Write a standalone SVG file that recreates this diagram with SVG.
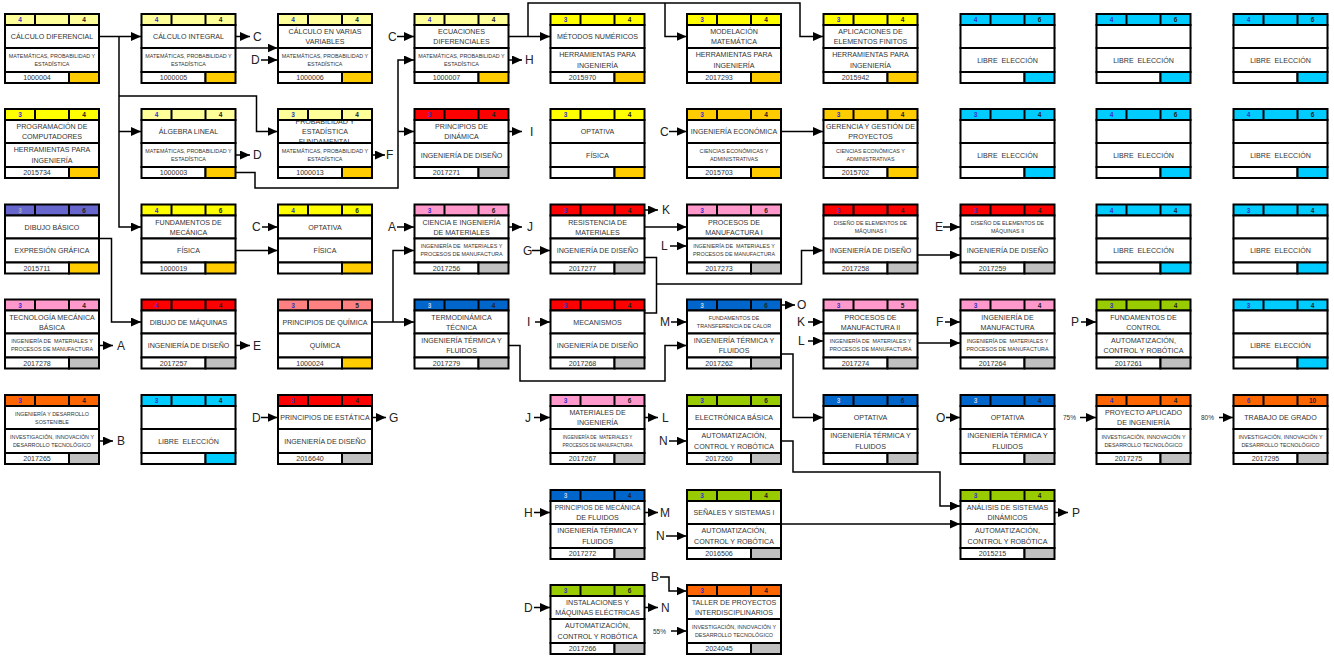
<svg xmlns="http://www.w3.org/2000/svg" width="1334" height="663" viewBox="0 0 1334 663">
<style>
.k{stroke:#000;stroke-width:2}
.w{fill:#fff}.ly{fill:#ffff99}.yy{fill:#ffff00}.go{fill:#ffcc00}.cy{fill:#00ccff}.rd{fill:#ff0000}.pk{fill:#ff99cc}.bl{fill:#0066cc}.sa{fill:#ff8080}.pu{fill:#6666cc}.gr{fill:#99cc00}.or{fill:#ff6600}.gy{fill:#c0c0c0}
.t{font-family:"Liberation Sans",Arial,sans-serif;font-size:7.1px;fill:#333;text-anchor:middle}
.s{font-size:5.4px}.xs{font-size:4.6px}
.h{font-family:"Liberation Sans",Arial,sans-serif;font-size:6.5px;font-weight:bold;fill:#3333cc;text-anchor:middle}
.r{fill:#222}
.lb{font-family:"Liberation Sans",Arial,sans-serif;font-size:12px;fill:#222}
.pc{font-family:"Liberation Sans",Arial,sans-serif;font-size:6.5px;fill:#333}
.c{fill:none;stroke:#000;stroke-width:1.5}
.a{marker-end:url(#ah)}
</style>
<defs>
<marker id="ah" markerUnits="userSpaceOnUse" markerWidth="10" markerHeight="9" refX="10" refY="4.5" orient="auto"><path d="M0,0 L10,4.5 L0,9 z" fill="#000"/></marker>
<g id="fr"><rect class="k w" y="11" width="94" height="23"/><rect class="k w" y="34" width="94" height="24"/><rect class="k w" y="58" width="64" height="11"/><path class="k" d="M30 0V11M64 0V11"/></g>
<clipPath id="ct"><rect x="1" y="12" width="92" height="21"/></clipPath>
</defs>
<rect width="1334" height="663" fill="#fff"/>
<g id="nodes">
<!-- Row 0 -->
<g id="calculo-diferencial" transform="translate(5,14)"><rect class="k ly" width="94" height="11"/><use href="#fr"/><rect class="k go" x="64" y="58" width="30" height="11"/><text class="h" x="15" y="8">4</text><text class="h r" x="79" y="8">4</text><text class="t" x="47" y="25">CÁLCULO DIFERENCIAL</text><text class="t s" x="47" y="43.8">MATEMÁTICAS, PROBABILIDAD Y</text><text class="t s" x="47" y="51.8">ESTADÍSTICA</text><text class="t" x="32" y="66">1000004</text></g>
<g id="calculo-integral" transform="translate(141.5,14)"><rect class="k ly" width="94" height="11"/><use href="#fr"/><rect class="k go" x="64" y="58" width="30" height="11"/><text class="h" x="15" y="8">4</text><text class="h r" x="79" y="8">4</text><text class="t" x="47" y="25">CÁLCULO INTEGRAL</text><text class="t s" x="47" y="43.8">MATEMÁTICAS, PROBABILIDAD Y</text><text class="t s" x="47" y="51.8">ESTADÍSTICA</text><text class="t" x="32" y="66">1000005</text></g>
<g id="calculo-varias-variables" transform="translate(278,14)"><rect class="k ly" width="94" height="11"/><use href="#fr"/><rect class="k go" x="64" y="58" width="30" height="11"/><text class="h" x="15" y="8">4</text><text class="h r" x="79" y="8">4</text><text class="t" x="47" y="20">CÁLCULO EN VARIAS</text><text class="t" x="47" y="30">VARIABLES</text><text class="t s" x="47" y="43.8">MATEMÁTICAS, PROBABILIDAD Y</text><text class="t s" x="47" y="51.8">ESTADÍSTICA</text><text class="t" x="32" y="66">1000006</text></g>
<g id="ecuaciones-diferenciales" transform="translate(414.5,14)"><rect class="k ly" width="94" height="11"/><use href="#fr"/><rect class="k go" x="64" y="58" width="30" height="11"/><text class="h" x="15" y="8">4</text><text class="h r" x="79" y="8">4</text><text class="t" x="47" y="20">ECUACIONES</text><text class="t" x="47" y="30">DIFERENCIALES</text><text class="t s" x="47" y="43.8">MATEMÁTICAS, PROBABILIDAD Y</text><text class="t s" x="47" y="51.8">ESTADÍSTICA</text><text class="t" x="32" y="66">1000007</text></g>
<g id="metodos-numericos" transform="translate(550.5,14)"><rect class="k yy" width="94" height="11"/><use href="#fr"/><rect class="k go" x="64" y="58" width="30" height="11"/><text class="h" x="15" y="8">3</text><text class="h r" x="79" y="8">4</text><text class="t" x="47" y="25">MÉTODOS NUMÉRICOS</text><text class="t" x="47" y="43.3">HERRAMIENTAS PARA</text><text class="t" x="47" y="53.8">INGENIERÍA</text><text class="t" x="32" y="66">2015970</text></g>
<g id="modelacion-matematica" transform="translate(687,14)"><rect class="k yy" width="94" height="11"/><use href="#fr"/><rect class="k go" x="64" y="58" width="30" height="11"/><text class="h" x="15" y="8">3</text><text class="h r" x="79" y="8">4</text><text class="t" x="47" y="20">MODELACIÓN</text><text class="t" x="47" y="30">MATEMÁTICA</text><text class="t" x="47" y="43.3">HERRAMIENTAS PARA</text><text class="t" x="47" y="53.8">INGENIERÍA</text><text class="t" x="32" y="66">2017293</text></g>
<g id="elementos-finitos" transform="translate(823.5,14)"><rect class="k yy" width="94" height="11"/><use href="#fr"/><rect class="k go" x="64" y="58" width="30" height="11"/><text class="h" x="15" y="8">3</text><text class="h r" x="79" y="8">4</text><text class="t" x="47" y="20">APLICACIONES DE</text><text class="t" x="47" y="30">ELEMENTOS FINITOS</text><text class="t" x="47" y="43.3">HERRAMIENTAS PARA</text><text class="t" x="47" y="53.8">INGENIERÍA</text><text class="t" x="32" y="66">2015942</text></g>
<g id="libre-1" transform="translate(960.5,14)"><rect class="k cy" width="94" height="11"/><use href="#fr"/><rect class="k cy" x="64" y="58" width="30" height="11"/><text class="h" x="15" y="8">4</text><text class="h r" x="79" y="8">6</text><text class="t" x="47" y="48.5" xml:space="preserve">LIBRE  ELECCIÓN</text></g>
<g id="libre-2" transform="translate(1096.5,14)"><rect class="k cy" width="94" height="11"/><use href="#fr"/><rect class="k cy" x="64" y="58" width="30" height="11"/><text class="h" x="15" y="8">4</text><text class="h r" x="79" y="8">6</text><text class="t" x="47" y="48.5" xml:space="preserve">LIBRE  ELECCIÓN</text></g>
<g id="libre-3" transform="translate(1233.5,14)"><rect class="k cy" width="94" height="11"/><use href="#fr"/><rect class="k cy" x="64" y="58" width="30" height="11"/><text class="h" x="15" y="8">4</text><text class="h r" x="79" y="8">6</text><text class="t" x="47" y="48.5" xml:space="preserve">LIBRE  ELECCIÓN</text></g>
<!-- Row 1 -->
<g id="programacion" transform="translate(5,109)"><rect class="k yy" width="94" height="11"/><use href="#fr"/><rect class="k go" x="64" y="58" width="30" height="11"/><text class="h" x="15" y="8">3</text><text class="h r" x="79" y="8">4</text><text class="t" x="47" y="20">PROGRAMACIÓN DE</text><text class="t" x="47" y="30">COMPUTADORES</text><text class="t" x="47" y="43.3">HERRAMIENTAS PARA</text><text class="t" x="47" y="53.8">INGENIERÍA</text><text class="t" x="32" y="66">2015734</text></g>
<g id="algebra-lineal" transform="translate(141.5,109)"><rect class="k ly" width="94" height="11"/><use href="#fr"/><rect class="k go" x="64" y="58" width="30" height="11"/><text class="h" x="15" y="8">4</text><text class="h r" x="79" y="8">4</text><text class="t" x="47" y="25">ÁLGEBRA LINEAL</text><text class="t s" x="47" y="43.8">MATEMÁTICAS, PROBABILIDAD Y</text><text class="t s" x="47" y="51.8">ESTADÍSTICA</text><text class="t" x="32" y="66">1000003</text></g>
<g id="probabilidad" transform="translate(278,109)"><rect class="k ly" width="94" height="11"/><use href="#fr"/><rect class="k go" x="64" y="58" width="30" height="11"/><text class="h" x="15" y="8">3</text><text class="h r" x="79" y="8">4</text><g clip-path="url(#ct)"><text class="t" x="47" y="15">PROBABILIDAD Y</text><text class="t" x="47" y="25">ESTADÍSTICA</text><text class="t" x="47" y="35">FUNDAMENTAL</text></g><text class="t s" x="47" y="43.8">MATEMÁTICAS, PROBABILIDAD Y</text><text class="t s" x="47" y="51.8">ESTADÍSTICA</text><text class="t" x="32" y="66">1000013</text></g>
<g id="principios-dinamica" transform="translate(414.5,109)"><rect class="k rd" width="94" height="11"/><use href="#fr"/><rect class="k gy" x="64" y="58" width="30" height="11"/><text class="h" x="15" y="8">3</text><text class="h r" x="79" y="8">4</text><text class="t" x="47" y="20">PRINCIPIOS DE</text><text class="t" x="47" y="30">DINÁMICA</text><text class="t" x="47" y="48.5">INGENIERÍA DE DISEÑO</text><text class="t" x="32" y="66">2017271</text></g>
<g id="optativa-fisica-1" transform="translate(550.5,109)"><rect class="k yy" width="94" height="11"/><use href="#fr"/><rect class="k go" x="64" y="58" width="30" height="11"/><text class="h" x="15" y="8">3</text><text class="h r" x="79" y="8">4</text><text class="t" x="47" y="25">OPTATIVA</text><text class="t" x="47" y="48.5">FÍSICA</text></g>
<g id="ingenieria-economica" transform="translate(687,109)"><rect class="k go" width="94" height="11"/><use href="#fr"/><rect class="k go" x="64" y="58" width="30" height="11"/><text class="h" x="15" y="8">3</text><text class="h r" x="79" y="8">4</text><text class="t" x="47" y="25">INGENIERÍA ECONÓMICA</text><text class="t s" x="47" y="43.8">CIENCIAS ECONÓMICAS Y</text><text class="t s" x="47" y="51.8">ADMINISTRATIVAS</text><text class="t" x="32" y="66">2015703</text></g>
<g id="gerencia-proyectos" transform="translate(823.5,109)"><rect class="k go" width="94" height="11"/><use href="#fr"/><rect class="k go" x="64" y="58" width="30" height="11"/><text class="h" x="15" y="8">3</text><text class="h r" x="79" y="8">4</text><text class="t" x="47" y="20">GERENCIA Y GESTIÓN DE</text><text class="t" x="47" y="30">PROYECTOS</text><text class="t s" x="47" y="43.8">CIENCIAS ECONÓMICAS Y</text><text class="t s" x="47" y="51.8">ADMINISTRATIVAS</text><text class="t" x="32" y="66">2015702</text></g>
<g id="libre-4" transform="translate(960.5,109)"><rect class="k cy" width="94" height="11"/><use href="#fr"/><rect class="k cy" x="64" y="58" width="30" height="11"/><text class="h" x="15" y="8">3</text><text class="h r" x="79" y="8">4</text><text class="t" x="47" y="48.5" xml:space="preserve">LIBRE  ELECCIÓN</text></g>
<g id="libre-5" transform="translate(1096.5,109)"><rect class="k cy" width="94" height="11"/><use href="#fr"/><rect class="k cy" x="64" y="58" width="30" height="11"/><text class="h" x="15" y="8">4</text><text class="h r" x="79" y="8">6</text><text class="t" x="47" y="48.5" xml:space="preserve">LIBRE  ELECCIÓN</text></g>
<g id="libre-6" transform="translate(1233.5,109)"><rect class="k cy" width="94" height="11"/><use href="#fr"/><rect class="k cy" x="64" y="58" width="30" height="11"/><text class="h" x="15" y="8">4</text><text class="h r" x="79" y="8">6</text><text class="t" x="47" y="48.5" xml:space="preserve">LIBRE  ELECCIÓN</text></g>
<!-- Row 2 -->
<g id="dibujo-basico" transform="translate(5,204.5)"><rect class="k pu" width="94" height="11"/><use href="#fr"/><rect class="k go" x="64" y="58" width="30" height="11"/><text class="h" x="15" y="8" style="fill:#aab">3</text><text class="h r" x="79" y="8">6</text><text class="t" x="47" y="25">DIBUJO BÁSICO</text><text class="t" x="47" y="48.5">EXPRESIÓN GRÁFICA</text><text class="t" x="32" y="66">2015711</text></g>
<g id="fundamentos-mecanica" transform="translate(141.5,204.5)"><rect class="k yy" width="94" height="11"/><use href="#fr"/><rect class="k go" x="64" y="58" width="30" height="11"/><text class="h" x="15" y="8">4</text><text class="h r" x="79" y="8">6</text><text class="t" x="47" y="20">FUNDAMENTOS DE</text><text class="t" x="47" y="30">MECÁNICA</text><text class="t" x="47" y="48.5">FÍSICA</text><text class="t" x="32" y="66">1000019</text></g>
<g id="optativa-fisica-2" transform="translate(278,204.5)"><rect class="k yy" width="94" height="11"/><use href="#fr"/><rect class="k go" x="64" y="58" width="30" height="11"/><text class="h" x="15" y="8">4</text><text class="h r" x="79" y="8">6</text><text class="t" x="47" y="25">OPTATIVA</text><text class="t" x="47" y="48.5">FÍSICA</text></g>
<g id="ciencia-materiales" transform="translate(414.5,204.5)"><rect class="k pk" width="94" height="11"/><use href="#fr"/><rect class="k gy" x="64" y="58" width="30" height="11"/><text class="h" x="15" y="8">3</text><text class="h r" x="79" y="8">6</text><text class="t" x="47" y="20">CIENCIA E INGENIERÍA</text><text class="t" x="47" y="30">DE MATERIALES</text><text class="t s" x="47" y="43.8" xml:space="preserve">INGENIERÍA DE  MATERIALES Y</text><text class="t s" x="47" y="51.8">PROCESOS DE MANUFACTURA</text><text class="t" x="32" y="66">2017256</text></g>
<g id="resistencia-materiales" transform="translate(550.5,204.5)"><rect class="k rd" width="94" height="11"/><use href="#fr"/><rect class="k gy" x="64" y="58" width="30" height="11"/><text class="h" x="15" y="8">3</text><text class="h r" x="79" y="8">4</text><text class="t" x="47" y="20">RESISTENCIA DE</text><text class="t" x="47" y="30">MATERIALES</text><text class="t" x="47" y="48.5">INGENIERÍA DE DISEÑO</text><text class="t" x="32" y="66">2017277</text></g>
<g id="procesos-manufactura-1" transform="translate(687,204.5)"><rect class="k pk" width="94" height="11"/><use href="#fr"/><rect class="k gy" x="64" y="58" width="30" height="11"/><text class="h" x="15" y="8">3</text><text class="h r" x="79" y="8">6</text><text class="t" x="47" y="20">PROCESOS DE</text><text class="t" x="47" y="30">MANUFACTURA I</text><text class="t s" x="47" y="43.8" xml:space="preserve">INGENIERÍA DE  MATERIALES Y</text><text class="t s" x="47" y="51.8">PROCESOS DE MANUFACTURA</text><text class="t" x="32" y="66">2017273</text></g>
<g id="diseno-elementos-1" transform="translate(823.5,204.5)"><rect class="k rd" width="94" height="11"/><use href="#fr"/><rect class="k gy" x="64" y="58" width="30" height="11"/><text class="h" x="15" y="8">3</text><text class="h r" x="79" y="8">4</text><text class="t s" x="47" y="20.3">DISEÑO DE ELEMENTOS DE</text><text class="t s" x="47" y="28.5">MÁQUINAS I</text><text class="t" x="47" y="48.5">INGENIERÍA DE DISEÑO</text><text class="t" x="32" y="66">2017258</text></g>
<g id="diseno-elementos-2" transform="translate(960.5,204.5)"><rect class="k rd" width="94" height="11"/><use href="#fr"/><rect class="k gy" x="64" y="58" width="30" height="11"/><text class="h" x="15" y="8">3</text><text class="h r" x="79" y="8">4</text><text class="t s" x="47" y="20.3">DISEÑO DE ELEMENTOS DE</text><text class="t s" x="47" y="28.5">MÁQUINAS II</text><text class="t" x="47" y="48.5">INGENIERÍA DE DISEÑO</text><text class="t" x="32" y="66">2017259</text></g>
<g id="libre-7" transform="translate(1096.5,204.5)"><rect class="k cy" width="94" height="11"/><use href="#fr"/><rect class="k cy" x="64" y="58" width="30" height="11"/><text class="h" x="15" y="8">4</text><text class="h r" x="79" y="8">4</text><text class="t" x="47" y="48.5" xml:space="preserve">LIBRE  ELECCIÓN</text></g>
<g id="libre-8" transform="translate(1233.5,204.5)"><rect class="k cy" width="94" height="11"/><use href="#fr"/><rect class="k cy" x="64" y="58" width="30" height="11"/><text class="h" x="15" y="8">3</text><text class="h r" x="79" y="8">4</text><text class="t" x="47" y="48.5" xml:space="preserve">LIBRE  ELECCIÓN</text></g>
<!-- Row 3 -->
<g id="tecnologia-mecanica" transform="translate(5,299.5)"><rect class="k pk" width="94" height="11"/><use href="#fr"/><rect class="k gy" x="64" y="58" width="30" height="11"/><text class="h" x="15" y="8">3</text><text class="h r" x="79" y="8">4</text><text class="t" x="47" y="20">TECNOLOGÍA MECÁNICA</text><text class="t" x="47" y="30">BÁSICA</text><text class="t s" x="47" y="43.8" xml:space="preserve">INGENIERÍA DE  MATERIALES Y</text><text class="t s" x="47" y="51.8">PROCESOS DE MANUFACTURA</text><text class="t" x="32" y="66">2017278</text></g>
<g id="dibujo-maquinas" transform="translate(141.5,299.5)"><rect class="k rd" width="94" height="11"/><use href="#fr"/><rect class="k gy" x="64" y="58" width="30" height="11"/><text class="h" x="15" y="8">4</text><text class="h r" x="79" y="8">4</text><text class="t" x="47" y="25">DIBUJO DE MÁQUINAS</text><text class="t" x="47" y="48.5">INGENIERÍA DE DISEÑO</text><text class="t" x="32" y="66">2017257</text></g>
<g id="principios-quimica" transform="translate(278,299.5)"><rect class="k sa" width="94" height="11"/><use href="#fr"/><rect class="k go" x="64" y="58" width="30" height="11"/><text class="h" x="15" y="8">3</text><text class="h r" x="79" y="8">5</text><text class="t" x="47" y="25">PRINCIPIOS DE QUÍMICA</text><text class="t" x="47" y="48.5">QUÍMICA</text><text class="t" x="32" y="66">1000024</text></g>
<g id="termodinamica" transform="translate(414.5,299.5)"><rect class="k bl" width="94" height="11"/><use href="#fr"/><rect class="k gy" x="64" y="58" width="30" height="11"/><text class="h" x="15" y="8" style="fill:#ccd">3</text><text class="h r" x="79" y="8">4</text><text class="t" x="47" y="20">TERMODINÁMICA</text><text class="t" x="47" y="30">TÉCNICA</text><text class="t" x="47" y="43.3">INGENIERÍA TÉRMICA Y</text><text class="t" x="47" y="53.8">FLUIDOS</text><text class="t" x="32" y="66">2017279</text></g>
<g id="mecanismos" transform="translate(550.5,299.5)"><rect class="k rd" width="94" height="11"/><use href="#fr"/><rect class="k gy" x="64" y="58" width="30" height="11"/><text class="h" x="15" y="8">3</text><text class="h r" x="79" y="8">4</text><text class="t" x="47" y="25">MECANISMOS</text><text class="t" x="47" y="48.5">INGENIERÍA DE DISEÑO</text><text class="t" x="32" y="66">2017268</text></g>
<g id="transferencia-calor" transform="translate(687,299.5)"><rect class="k bl" width="94" height="11"/><use href="#fr"/><rect class="k gy" x="64" y="58" width="30" height="11"/><text class="h" x="15" y="8" style="fill:#ccd">3</text><text class="h r" x="79" y="8">6</text><text class="t s" x="47" y="20">FUNDAMENTOS DE</text><text class="t s" x="47" y="28.5">TRANSFERENCIA DE CALOR</text><text class="t" x="47" y="43.3">INGENIERÍA TÉRMICA Y</text><text class="t" x="47" y="53.8">FLUIDOS</text><text class="t" x="32" y="66">2017262</text></g>
<g id="procesos-manufactura-2" transform="translate(823.5,299.5)"><rect class="k pk" width="94" height="11"/><use href="#fr"/><rect class="k gy" x="64" y="58" width="30" height="11"/><text class="h" x="15" y="8">3</text><text class="h r" x="79" y="8">5</text><text class="t" x="47" y="20">PROCESOS DE</text><text class="t" x="47" y="30">MANUFACTURA II</text><text class="t s" x="47" y="43.8" xml:space="preserve">INGENIERÍA DE  MATERIALES Y</text><text class="t s" x="47" y="51.8">PROCESOS DE MANUFACTURA</text><text class="t" x="32" y="66">2017274</text></g>
<g id="ingenieria-manufactura" transform="translate(960.5,299.5)"><rect class="k pk" width="94" height="11"/><use href="#fr"/><rect class="k gy" x="64" y="58" width="30" height="11"/><text class="h" x="15" y="8">3</text><text class="h r" x="79" y="8">4</text><text class="t" x="47" y="20">INGENIERÍA DE</text><text class="t" x="47" y="30">MANUFACTURA</text><text class="t s" x="47" y="43.8" xml:space="preserve">INGENIERÍA DE  MATERIALES Y</text><text class="t s" x="47" y="51.8">PROCESOS DE MANUFACTURA</text><text class="t" x="32" y="66">2017264</text></g>
<g id="fundamentos-control" transform="translate(1096.5,299.5)"><rect class="k gr" width="94" height="11"/><use href="#fr"/><rect class="k gy" x="64" y="58" width="30" height="11"/><text class="h" x="15" y="8">3</text><text class="h r" x="79" y="8">4</text><text class="t" x="47" y="20">FUNDAMENTOS DE</text><text class="t" x="47" y="30">CONTROL</text><text class="t" x="47" y="43.3">AUTOMATIZACIÓN,</text><text class="t" x="47" y="53.8">CONTROL Y ROBÓTICA</text><text class="t" x="32" y="66">2017261</text></g>
<g id="libre-9" transform="translate(1233.5,299.5)"><rect class="k cy" width="94" height="11"/><use href="#fr"/><rect class="k cy" x="64" y="58" width="30" height="11"/><text class="h" x="15" y="8">3</text><text class="h r" x="79" y="8">4</text><text class="t" x="47" y="48.5" xml:space="preserve">LIBRE  ELECCIÓN</text></g>
<!-- Row 4 -->
<g id="desarrollo-sostenible" transform="translate(5,395)"><rect class="k or" width="94" height="11"/><use href="#fr"/><rect class="k gy" x="64" y="58" width="30" height="11"/><text class="h" x="15" y="8">3</text><text class="h r" x="79" y="8">4</text><text class="t s" x="47" y="20.8">INGENIERÍA Y DESARROLLO</text><text class="t s" x="47" y="28.8">SOSTENIBLE</text><text class="t s" x="47" y="43.8">INVESTIGACIÓN, INNOVACIÓN Y</text><text class="t s" x="47" y="51.8">DESARROLLO TECNOLÓGICO</text><text class="t" x="32" y="66">2017265</text></g>
<g id="libre-10" transform="translate(141.5,395)"><rect class="k cy" width="94" height="11"/><use href="#fr"/><rect class="k cy" x="64" y="58" width="30" height="11"/><text class="h" x="15" y="8">3</text><text class="h r" x="79" y="8">4</text><text class="t" x="47" y="48.5" xml:space="preserve">LIBRE  ELECCIÓN</text></g>
<g id="principios-estatica" transform="translate(278,395)"><rect class="k rd" width="94" height="11"/><use href="#fr"/><rect class="k gy" x="64" y="58" width="30" height="11"/><text class="h" x="15" y="8">3</text><text class="h r" x="79" y="8">4</text><text class="t" x="47" y="25">PRINCIPIOS DE ESTÁTICA</text><text class="t" x="47" y="48.5">INGENIERÍA DE DISEÑO</text><text class="t" x="32" y="66">2016640</text></g>
<g id="materiales-ingenieria" transform="translate(550.5,395)"><rect class="k pk" width="94" height="11"/><use href="#fr"/><rect class="k gy" x="64" y="58" width="30" height="11"/><text class="h" x="15" y="8">3</text><text class="h r" x="79" y="8">6</text><text class="t" x="47" y="20">MATERIALES DE</text><text class="t" x="47" y="30">INGENIERÍA</text><text class="t xs" x="47" y="43.8" xml:space="preserve">INGENIERÍA DE  MATERIALES Y</text><text class="t xs" x="47" y="51.8">PROCESOS DE MANUFACTURA</text><text class="t" x="32" y="66">2017267</text></g>
<g id="electronica-basica" transform="translate(687,395)"><rect class="k gr" width="94" height="11"/><use href="#fr"/><rect class="k gy" x="64" y="58" width="30" height="11"/><text class="h" x="15" y="8">3</text><text class="h r" x="79" y="8">6</text><text class="t" x="47" y="25">ELECTRÓNICA BÁSICA</text><text class="t" x="47" y="43.3">AUTOMATIZACIÓN,</text><text class="t" x="47" y="53.8">CONTROL Y ROBÓTICA</text><text class="t" x="32" y="66">2017260</text></g>
<g id="optativa-termica-1" transform="translate(823.5,395)"><rect class="k bl" width="94" height="11"/><use href="#fr"/><rect class="k gy" x="64" y="58" width="30" height="11"/><text class="h" x="15" y="8" style="fill:#ccd">3</text><text class="h r" x="79" y="8">6</text><text class="t" x="47" y="25">OPTATIVA</text><text class="t" x="47" y="43.3">INGENIERÍA TÉRMICA Y</text><text class="t" x="47" y="53.8">FLUIDOS</text></g>
<g id="optativa-termica-2" transform="translate(960.5,395)"><rect class="k bl" width="94" height="11"/><use href="#fr"/><rect class="k gy" x="64" y="58" width="30" height="11"/><text class="h" x="15" y="8" style="fill:#ccd">3</text><text class="h r" x="79" y="8">4</text><text class="t" x="47" y="25">OPTATIVA</text><text class="t" x="47" y="43.3">INGENIERÍA TÉRMICA Y</text><text class="t" x="47" y="53.8">FLUIDOS</text></g>
<g id="proyecto-aplicado" transform="translate(1096.5,395)"><rect class="k or" width="94" height="11"/><use href="#fr"/><rect class="k gy" x="64" y="58" width="30" height="11"/><text class="h" x="15" y="8">4</text><text class="h r" x="79" y="8">4</text><text class="t" x="47" y="20">PROYECTO APLICADO</text><text class="t" x="47" y="30">DE INGENIERÍA</text><text class="t s" x="47" y="43.8">INVESTIGACIÓN, INNOVACIÓN Y</text><text class="t s" x="47" y="51.8">DESARROLLO TECNOLÓGICO</text><text class="t" x="32" y="66">2017275</text></g>
<g id="trabajo-grado" transform="translate(1233.5,395)"><rect class="k or" width="94" height="11"/><use href="#fr"/><rect class="k gy" x="64" y="58" width="30" height="11"/><text class="h" x="15" y="8">6</text><text class="h r" x="79" y="8">10</text><text class="t" x="47" y="25">TRABAJO DE GRADO</text><text class="t s" x="47" y="43.8">INVESTIGACIÓN, INNOVACIÓN Y</text><text class="t s" x="47" y="51.8">DESARROLLO TECNOLÓGICO</text><text class="t" x="32" y="66">2017295</text></g>
<!-- Row 5 -->
<g id="mecanica-fluidos" transform="translate(550.5,490)"><rect class="k bl" width="94" height="11"/><use href="#fr"/><rect class="k gy" x="64" y="58" width="30" height="11"/><text class="h" x="15" y="8" style="fill:#ccd">3</text><text class="h r" x="79" y="8">4</text><text class="t" x="47" y="20" style="font-size:6.6px">PRINCIPIOS DE MECÁNICA</text><text class="t" x="47" y="30">DE FLUIDOS</text><text class="t" x="47" y="43.3">INGENIERÍA TÉRMICA Y</text><text class="t" x="47" y="53.8">FLUIDOS</text><text class="t" x="32" y="66">2017272</text></g>
<g id="senales-sistemas" transform="translate(687,490)"><rect class="k gr" width="94" height="11"/><use href="#fr"/><rect class="k gy" x="64" y="58" width="30" height="11"/><text class="h" x="15" y="8">3</text><text class="h r" x="79" y="8">4</text><text class="t" x="47" y="25">SEÑALES Y SISTEMAS I</text><text class="t" x="47" y="43.3">AUTOMATIZACIÓN,</text><text class="t" x="47" y="53.8">CONTROL Y ROBÓTICA</text><text class="t" x="32" y="66">2016506</text></g>
<g id="analisis-sistemas" transform="translate(960.5,490)"><rect class="k gr" width="94" height="11"/><use href="#fr"/><rect class="k gy" x="64" y="58" width="30" height="11"/><text class="h" x="15" y="8">3</text><text class="h r" x="79" y="8">4</text><text class="t" x="47" y="20">ANÁLISIS DE SISTEMAS</text><text class="t" x="47" y="30">DINÁMICOS</text><text class="t" x="47" y="43.3">AUTOMATIZACIÓN,</text><text class="t" x="47" y="53.8">CONTROL Y ROBÓTICA</text><text class="t" x="32" y="66">2015215</text></g>
<!-- Row 6 -->
<g id="instalaciones" transform="translate(550.5,585)"><rect class="k gr" width="94" height="11"/><use href="#fr"/><rect class="k gy" x="64" y="58" width="30" height="11"/><text class="h" x="15" y="8">3</text><text class="h r" x="79" y="8">6</text><text class="t" x="47" y="20">INSTALACIONES Y</text><text class="t" x="47" y="30">MÁQUINAS ELÉCTRICAS</text><text class="t" x="47" y="43.3">AUTOMATIZACIÓN,</text><text class="t" x="47" y="53.8">CONTROL Y ROBÓTICA</text><text class="t" x="32" y="66">2017266</text></g>
<g id="taller-proyectos" transform="translate(687,585)"><rect class="k or" width="94" height="11"/><use href="#fr"/><rect class="k gy" x="64" y="58" width="30" height="11"/><text class="h" x="15" y="8">3</text><text class="h r" x="79" y="8">4</text><text class="t" x="47" y="20">TALLER DE PROYECTOS</text><text class="t" x="47" y="30">INTERDISCIPLINARIOS</text><text class="t s" x="47" y="43.8">INVESTIGACIÓN, INNOVACIÓN Y</text><text class="t s" x="47" y="51.8">DESARROLLO TECNOLÓGICO</text><text class="t" x="32" y="66">2024045</text></g>
</g>
<g id="connectors">
<path class="c a" d="M99 36.5H141"/>
<path class="c a" d="M119 36.5V227H141"/>
<path class="c a" d="M119 131.5H141"/>
<path class="c a" d="M119 96H256.5V131.5H277.5"/>
<path class="c a" d="M235.5 36.5H250"/>
<path class="c a" d="M235.5 48H277.5"/>
<path class="c a" d="M261 60H277.5"/>
<path class="c a" d="M235.5 155H250"/>
<path class="c a" d="M235.5 172.5H255V188H398V60H414"/>
<path class="c a" d="M398 131.5H414"/>
<path class="c a" d="M372 155H385"/>
<path class="c a" d="M397 36.5H414"/>
<path class="c a" d="M508.5 36.5H550"/>
<path class="c a" d="M528 36.5V3H800V36.5H823"/>
<path class="c a" d="M665 3V36.5H686.5"/>
<path class="c a" d="M508.5 60H522"/>
<path class="c a" d="M508.5 131.5H522"/>
<path class="c a" d="M669 131.5H686.5"/>
<path class="c a" d="M781 131.5H823"/>
<path class="c a" d="M235.5 250.5H277.5"/>
<path class="c a" d="M262 227H277.5"/>
<path class="c a" d="M99 238.5H111.5V322H141"/>
<path class="c a" d="M99 345.5H113"/>
<path class="c a" d="M235.5 345.5H250"/>
<path class="c a" d="M397 227H414"/>
<path class="c a" d="M372 322H414"/>
<path class="c a" d="M393 322V250.5H414"/>
<path class="c a" d="M508.5 227H522"/>
<path class="c a" d="M532 250.5H550"/>
<path class="c a" d="M508.5 345.5H520V381H665V345.5H686.5"/>
<path class="c a" d="M535 322H550"/>
<path class="c a" d="M644.5 210H658"/>
<path class="c a" d="M644.5 227H686.5"/>
<path class="c a" d="M670 246H686.5"/>
<path class="c" d="M644.5 257.5H656.5V313H644.5"/>
<path class="c a" d="M656.5 284H801.5V250.5H823"/>
<path class="c a" d="M917.5 255H960"/>
<path class="c a" d="M943 227H960"/>
<path class="c a" d="M781 305H795"/>
<path class="c a" d="M808 322H823"/>
<path class="c a" d="M808 341H823"/>
<path class="c a" d="M917.5 343H960"/>
<path class="c a" d="M945 322H960"/>
<path class="c a" d="M1081 322H1096"/>
<path class="c a" d="M671 322H686.5"/>
<path class="c a" d="M781 354H793V417.5H823"/>
<path class="c a" d="M946 417.5H960"/>
<path class="c a" d="M1080 417.5H1096"/>
<path class="c a" d="M1219 417.5H1233"/>
<path class="c a" d="M261 417.5H277.5"/>
<path class="c a" d="M372 417.5H386"/>
<path class="c a" d="M99 441H113"/>
<path class="c a" d="M534 417.5H550"/>
<path class="c a" d="M644.5 417.5H658"/>
<path class="c a" d="M669 441H686.5"/>
<path class="c a" d="M781 441H793V472H940V506H960"/>
<path class="c a" d="M534 512.5H550"/>
<path class="c a" d="M644.5 512.5H658"/>
<path class="c a" d="M666 536H686.5"/>
<path class="c a" d="M781 524H960"/>
<path class="c a" d="M1054.5 512.5H1068"/>
<path class="c a" d="M534 607.5H550"/>
<path class="c a" d="M644.5 607.5H658"/>
<path class="c a" d="M660 577H669V591H686.5"/>
<path class="c a" d="M671 631H686.5"/>
<g id="labels">
<text class="lb" x="253" y="40.8">C</text>
<text class="lb" x="251" y="64.3">D</text>
<text class="lb" x="253" y="159.3">D</text>
<text class="lb" x="386" y="159.3">F</text>
<text class="lb" x="388" y="40.8">C</text>
<text class="lb" x="525" y="64.3">H</text>
<text class="lb" x="530" y="135.8">I</text>
<text class="lb" x="660" y="135.8">C</text>
<text class="lb" x="252" y="231.3">C</text>
<text class="lb" x="117" y="349.8">A</text>
<text class="lb" x="253" y="349.8">E</text>
<text class="lb" x="388" y="231.3">A</text>
<text class="lb" x="527" y="231.3">J</text>
<text class="lb" x="523" y="254.8">G</text>
<text class="lb" x="527" y="326.3">I</text>
<text class="lb" x="662" y="214.3">K</text>
<text class="lb" x="661" y="250.3">L</text>
<text class="lb" x="935" y="231.3">E</text>
<text class="lb" x="797" y="309.3">O</text>
<text class="lb" x="797" y="326.3">K</text>
<text class="lb" x="798" y="345.3">L</text>
<text class="lb" x="936" y="326.3">F</text>
<text class="lb" x="1071" y="326.3">P</text>
<text class="lb" x="660" y="326.3">M</text>
<text class="lb" x="936" y="421.8">O</text>
<text class="lb" x="252" y="421.8">D</text>
<text class="lb" x="389" y="421.8">G</text>
<text class="lb" x="117" y="445.3">B</text>
<text class="lb" x="525" y="421.8">J</text>
<text class="lb" x="662" y="421.8">L</text>
<text class="lb" x="659" y="445.3">N</text>
<text class="lb" x="524" y="516.8">H</text>
<text class="lb" x="660" y="516.8">M</text>
<text class="lb" x="656" y="540.3">N</text>
<text class="lb" x="1072" y="516.8">P</text>
<text class="lb" x="524" y="611.8">D</text>
<text class="lb" x="661" y="611.8">N</text>
<text class="lb" x="651" y="581">B</text>
<text class="pc" x="1063" y="420">75%</text>
<text class="pc" x="1201" y="420">80%</text>
<text class="pc" x="653" y="633.5">55%</text>
</g>
</g>
</svg>
